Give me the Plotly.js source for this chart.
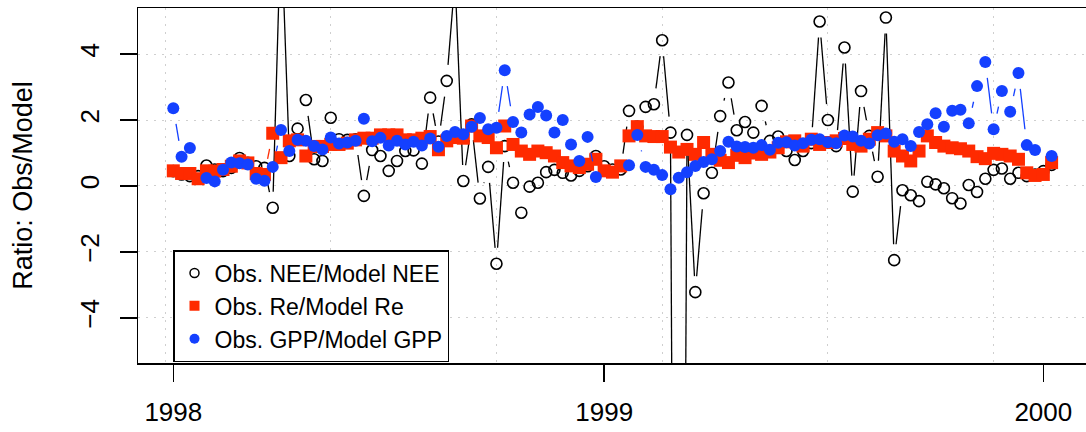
<!DOCTYPE html>
<html><head><meta charset="utf-8">
<script src="https://cdn.plot.ly/plotly-3.0.1.min.js"></script>
<style>html,body{margin:0;padding:0;background:#fff}#chart{width:1086px;height:432px}</style>
</head><body><div id="chart"></div>
<script>
// Weekly ratios, 1998-1999 (index 1 = first week of 1998)
const neeRatio = [0.45,0.35,0.30,0.30,0.62,0.50,0.45,0.55,0.85,0.70,
  0.60,0.55,-0.66,8.0,0.91,1.74,2.61,0.81,0.76,2.07,
  1.42,1.40,1.42,-0.30,1.09,0.91,0.46,0.76,1.06,1.08,
  0.68,2.68,1.35,3.19,6.3,0.15,1.87,-0.38,0.58,-2.36,
  1.21,0.10,-0.81,-0.02,0.10,0.42,0.49,0.40,0.32,0.46,
  0.60,0.91,0.60,0.50,0.50,2.28,1.80,2.40,2.48,4.42,
  1.62,-45,1.55,-3.22,-0.22,0.40,2.12,3.14,1.69,1.94,
  1.62,2.43,1.37,1.50,1.06,0.79,1.06,1.30,4.99,2.00,
  1.21,4.20,-0.17,2.88,1.52,0.28,5.11,-2.25,-0.13,-0.28,
  -0.46,0.13,0.05,-0.07,-0.37,-0.53,0.03,-0.18,0.22,0.49,
  0.53,0.22,0.40,0.30,0.35,0.45,0.64];
const reRatio = [0.46,0.38,0.38,0.22,0.46,0.45,0.50,0.60,0.76,0.70,
  0.38,0.35,1.60,0.86,1.37,1.40,0.91,1.20,1.20,1.26,
  1.26,1.30,1.40,1.45,1.45,1.55,1.55,1.55,1.40,1.40,
  1.45,1.50,1.10,1.37,1.47,1.45,1.82,1.52,1.47,1.16,
  1.82,1.26,1.06,0.96,1.06,1.01,0.91,0.71,0.61,0.56,
  0.66,0.81,0.46,0.42,0.61,1.52,1.80,1.52,1.50,1.50,
  1.18,1.03,1.11,0.96,1.32,0.96,0.78,0.71,0.93,0.86,
  1.00,0.96,1.03,1.16,1.34,1.37,1.21,1.42,1.26,1.32,
  1.37,1.44,1.26,1.21,1.42,1.62,1.52,1.06,0.91,0.76,
  1.06,1.52,1.32,1.21,1.16,1.13,1.06,0.89,0.83,0.99,
  0.96,0.91,0.81,0.40,0.32,0.35,0.71];
const gppRatio = [2.36,0.89,1.15,null,0.24,0.14,0.49,0.71,0.69,0.65,
  0.22,0.16,0.58,1.70,1.06,1.40,1.37,1.21,1.11,1.47,
  1.29,1.32,1.37,2.04,1.36,1.46,1.23,1.37,1.26,1.34,
  1.23,1.44,1.19,1.52,1.64,1.57,1.80,2.06,1.72,1.77,
  3.51,1.94,1.62,2.17,2.40,2.14,1.62,2.00,1.26,0.76,
  1.49,0.27,null,null,null,0.63,1.55,0.58,0.49,0.33,
  -0.10,0.25,0.42,0.61,0.73,0.81,1.06,1.34,1.20,1.18,
  1.16,1.24,1.10,1.31,1.33,1.23,1.30,1.40,1.42,1.33,
  1.30,1.53,1.50,1.37,1.29,1.54,1.59,1.34,1.42,1.21,
  1.64,1.87,2.21,1.80,2.28,2.31,1.90,3.03,3.76,1.72,
  2.88,2.25,3.43,1.24,1.09,null,0.91];
const yearTickPos = [1, 53, 106];
const yearTickText = ['1998', '1999', '2000'];
const gridX = [0, 20, 40, 60, 80, 100];
const gridY = [-4, -2, 0, 2, 4];
const seriesNames = ['Obs. NEE/Model NEE', 'Obs. Re/Model Re', 'Obs. GPP/Model GPP'];

const week = neeRatio.map((_, k) => k + 1);

// layout geometry
const W = 1086, H = 432;
const M = {l: 138, r: 0, t: 8, b: 69};
const xRange = [-3.26, 111.15];
const yRange = [-5.37, 5.40];
const plotW = W - M.l - M.r, plotH = H - M.t - M.b;
const RED = '#ff2a00', BLUE = '#1440ff';
const FONT = 'Liberation Sans, Arial, Helvetica, sans-serif';

// R type="b": connecting segments leave a gap around each point
function gapLines(xs, ys, gapPx) {
  const sx = plotW / (xRange[1] - xRange[0]);
  const sy = plotH / (yRange[1] - yRange[0]);
  const X = [], Y = [];
  for (let k = 0; k < xs.length - 1; k++) {
    if (ys[k] == null || ys[k + 1] == null) continue;
    const dx = (xs[k + 1] - xs[k]) * sx, dy = (ys[k + 1] - ys[k]) * sy;
    const d = Math.hypot(dx, dy);
    if (d <= 2 * gapPx) continue;
    const ux = dx / d * gapPx / sx, uy = dy / d * gapPx / sy;
    X.push(xs[k] + ux, xs[k + 1] - ux, null);
    Y.push(ys[k] + uy, ys[k + 1] - uy, null);
  }
  return {x: X, y: Y};
}
const GAP = 16;
function lineTrace(ys, color) {
  const s = gapLines(week, ys, GAP);
  return {x: s.x, y: s.y, type: 'scatter', mode: 'lines', line: {color: color, width: 1.3},
    showlegend: false, hoverinfo: 'skip', connectgaps: false};
}

const traces = [
  lineTrace(neeRatio, '#000'),
  {x: week, y: neeRatio, type: 'scatter', mode: 'markers', showlegend: false,
   marker: {symbol: 'circle-open', size: 11, color: '#000', line: {width: 1.6, color: '#000'}}},
  lineTrace(reRatio, RED),
  {x: week, y: reRatio, type: 'scatter', mode: 'markers', showlegend: false,
   marker: {symbol: 'square', size: 13, color: RED, line: {width: 0}}},
  lineTrace(gppRatio, BLUE),
  {x: week, y: gppRatio, type: 'scatter', mode: 'markers', showlegend: false,
   marker: {symbol: 'circle', size: 12, color: BLUE, line: {width: 0}}},
  // legend entries
  {x: [null], y: [null], xaxis: 'x2', type: 'scatter', mode: 'markers', name: seriesNames[0],
   marker: {symbol: 'circle-open', size: 9, color: '#000', line: {width: 1.5, color: '#000'}}},
  {x: [null], y: [null], xaxis: 'x2', type: 'scatter', mode: 'markers', name: seriesNames[1],
   marker: {symbol: 'square', size: 10, color: RED}},
  {x: [null], y: [null], xaxis: 'x2', type: 'scatter', mode: 'markers', name: seriesNames[2],
   marker: {symbol: 'circle', size: 10, color: BLUE}}
];

const layout = {
  width: W, height: H,
  margin: M,
  paper_bgcolor: '#fff', plot_bgcolor: '#fff',
  font: {family: FONT, color: '#000', size: 26},
  showlegend: true,
  xaxis: {
    range: xRange, autorange: false,
    tickmode: 'array', tickvals: yearTickPos, ticktext: yearTickText,
    ticks: 'outside', ticklen: 17, tickwidth: 1.5, tickcolor: '#000',
    tickfont: {size: 26, family: FONT}, ticklabelstandoff: 8,
    showgrid: false, zeroline: false,
    showline: true, linecolor: '#000', linewidth: 1.5, mirror: true
  },
  xaxis2: {
    range: xRange, autorange: false, overlaying: 'x', anchor: 'y', side: 'bottom',
    tickmode: 'array', tickvals: gridX, showticklabels: false, ticks: '',
    showgrid: true, gridcolor: '#cfcfcf', gridwidth: 1, griddash: '2px,6px',
    zeroline: false, showline: false
  },
  yaxis: {
    range: yRange, autorange: false,
    tickmode: 'array', tickvals: gridY,
    ticks: 'outside', ticklen: 17, tickwidth: 1.5, tickcolor: '#000',
    tickangle: -90, tickfont: {size: 26, family: FONT}, ticklabelstandoff: 10,
    showgrid: true, gridcolor: '#cfcfcf', gridwidth: 1, griddash: '2px,6px',
    zeroline: false, showline: true, linecolor: '#000', linewidth: 1.5,
    title: {text: 'Ratio: Obs/Model', font: {size: 27, family: FONT}, standoff: 34}
  },
  legend: {
    x: 35 / plotW, y: (363 - 250) / plotH, xanchor: 'left', yanchor: 'top',
    bgcolor: '#fff', bordercolor: '#000', borderwidth: 1.5,
    font: {size: 23, family: FONT, color: '#000'}, tracegroupgap: 0, itemsizing: 'trace'
  }
};

Plotly.newPlot('chart', traces, layout, {displayModeBar: false, staticPlot: true});
</script></body></html>
